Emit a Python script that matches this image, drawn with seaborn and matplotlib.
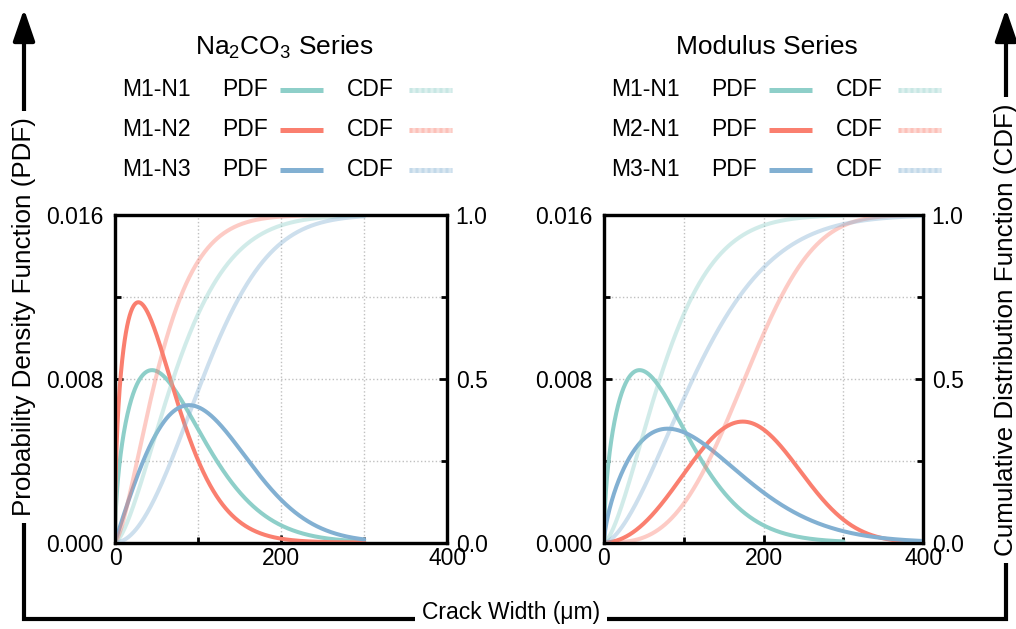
import numpy as np
import pandas as pd
import matplotlib
matplotlib.use("Agg")
import matplotlib.pyplot as plt
import seaborn as sns
from matplotlib.lines import Line2D
from matplotlib.patches import FancyArrowPatch
from matplotlib.ticker import MultipleLocator

# ---------------- data (Weibull fits) ----------------
left_title = "Na$_2$CO$_3$ Series"
right_title = "Modulus Series"
left_labels = ["M1-N1", "M1-N2", "M1-N3"]
right_labels = ["M1-N1", "M2-N1", "M3-N1"]
left_shape = [1.53, 1.45, 1.98]
left_scale = [89.0, 63.0, 127.0]
left_xmax = [300, 300, 300]
right_shape = [1.53, 3.0, 1.66]
right_scale = [89.0, 199.0, 139.0]
right_xmax = [300, 400, 400]
colors = ["#8ECFC9", "#FA7F6F", "#82B0D2"]
x_ticks = [0, 200, 400]
pdf_ticks = [0.000, 0.008, 0.016]
cdf_ticks = [0.0, 0.5, 1.0]
x_label = "Crack Width (μm)"
pdf_label = "Probability Density Function (PDF)"
cdf_label = "Cumulative Distribution Function (CDF)"

sns.set_theme(style="ticks")
plt.rcParams['font.family'] = ['Liberation Sans', 'DejaVu Sans']
plt.rcParams['mathtext.fontset'] = 'custom'
plt.rcParams['mathtext.rm'] = 'Liberation Sans'
plt.rcParams['mathtext.it'] = 'Liberation Sans:italic'
plt.rcParams['mathtext.bf'] = 'Liberation Sans:bold'
for key in ['text.color', 'axes.labelcolor', 'xtick.color', 'ytick.color', 'axes.edgecolor']:
    plt.rcParams[key] = 'black'

W, H = 1016, 629
fig = plt.figure(figsize=(W / 100, H / 100), dpi=100)


def fx(p):
    return p / W


def fy(p):
    return 1 - p / H


def weibull(x, k, lam):
    z = x / lam
    pdf = (k / lam) * z ** (k - 1) * np.exp(-z ** k)
    cdf = 1 - np.exp(-z ** k)
    return pdf, cdf


def panel(left, right, shapes, scales, xmaxs):
    top, bot = 215, 542.5
    ax = fig.add_axes([fx(left), fy(bot), fx(right - left), (bot - top) / H])
    ax2 = ax.twinx()
    for k, lam, xm, c in zip(shapes, scales, xmaxs, colors):
        x = np.linspace(0, xm, 800)
        pdf, cdf = weibull(x, k, lam)
        df = pd.DataFrame({"x": x, "pdf": pdf, "cdf": cdf})
        sns.lineplot(data=df, x="x", y="pdf", ax=ax, color=c, lw=2.9, zorder=3)
        sns.lineplot(data=df, x="x", y="cdf", ax=ax2, color=c, lw=2.9, alpha=0.4, zorder=2)
    ax.set_xlim(0, 400)
    ax.set_ylim(0, 0.016)
    ax2.set_ylim(0, 1.0)
    ax.set_xticks(x_ticks)
    ax.set_yticks(pdf_ticks)
    ax.set_yticklabels([f"{v:.3f}" for v in pdf_ticks])
    ax2.set_yticks(cdf_ticks)
    ax2.set_yticklabels([f"{v:.1f}" for v in cdf_ticks])
    ax.xaxis.set_minor_locator(MultipleLocator(100))
    ax.yaxis.set_minor_locator(MultipleLocator(0.004))
    ax2.yaxis.set_minor_locator(MultipleLocator(0.25))
    ax.grid(True, which="both", color="#c0c0c0", ls=":", lw=1.0)
    ax.set_xlabel("")
    ax.set_ylabel("")
    ax2.set_ylabel("")
    ax.tick_params(axis="x", which="both", direction="in", labelsize=16.5, pad=3,
                   top=False, width=2)
    ax.tick_params(axis="x", which="major", length=6)
    ax.tick_params(axis="x", which="minor", length=4)
    ax.tick_params(axis="y", which="both", direction="in", labelsize=16.5, pad=8, width=2)
    ax.tick_params(axis="y", which="major", length=6)
    ax.tick_params(axis="y", which="minor", length=4)
    ax2.tick_params(axis="y", which="both", direction="in", labelsize=16.5, pad=6, width=2)
    ax2.tick_params(axis="y", which="major", length=6)
    ax2.tick_params(axis="y", which="minor", length=4)
    for a in (ax, ax2):
        for s in a.spines.values():
            s.set_linewidth(2.3)
            s.set_color("black")
    ax.set_facecolor("white")
    return ax, ax2


panel(115, 447.3, left_shape, left_scale, left_xmax)
panel(604, 923.3, right_shape, right_scale, right_xmax)


def legend_block(x0, title, title_cx, labels):
    fig.text(fx(title_cx), fy(47), title, ha="center", va="center", fontsize=19)
    rows = [90, 130, 170]
    for lab, c, yy in zip(labels, colors, rows):
        fig.text(fx(x0), fy(yy), lab, ha="left", va="center", fontsize=16.5)
        fig.text(fx(x0 + 100), fy(yy), "PDF", ha="left", va="center", fontsize=16.5)
        fig.add_artist(Line2D([fx(x0 + 158), fx(x0 + 201)], [fy(yy), fy(yy)],
                              transform=fig.transFigure, color=c, lw=3.6,
                              solid_capstyle="butt"))
        fig.text(fx(x0 + 225), fy(yy), "CDF", ha="left", va="center", fontsize=16.5)
        fig.add_artist(Line2D([fx(x0 + 287), fx(x0 + 330)], [fy(yy), fy(yy)],
                              transform=fig.transFigure, color=c, lw=3.6, alpha=0.3,
                              solid_capstyle="butt"))
        fig.add_artist(Line2D([fx(x0 + 287), fx(x0 + 330)], [fy(yy), fy(yy)],
                              transform=fig.transFigure, color=c, lw=3.6, alpha=0.25,
                              ls=(0, (0.6, 0.6)), dash_capstyle="butt"))


legend_block(122, left_title, 284, left_labels)
legend_block(611, right_title, 767, right_labels)

# ---------------- outer frame with arrows ----------------
lx, rx, by = 24, 1006, 619
fig.add_artist(Line2D([fx(lx), fx(lx), fx(rx), fx(rx)], [fy(30), fy(by), fy(by), fy(30)],
                      transform=fig.transFigure, color="black", lw=3,
                      solid_joinstyle="miter", zorder=1))
for xx in (lx, rx):
    fig.add_artist(FancyArrowPatch((fx(xx), fy(40)), (fx(xx), fy(9)),
                                   transform=fig.transFigure,
                                   arrowstyle="-|>,head_length=1.6,head_width=0.55",
                                   mutation_scale=12, color="black", lw=3,
                                   shrinkA=0, shrinkB=0))

bb = dict(facecolor="white", edgecolor="none", pad=5)
fig.text(fx(lx), fy(317), pdf_label, rotation=90, ha="center", va="center",
         fontsize=18.7, bbox=bb, zorder=5)
fig.text(fx(rx), fy(330), cdf_label, rotation=90, ha="center", va="center",
         fontsize=18.7, bbox=bb, zorder=5)
fig.text(fx(511), fy(613), x_label, ha="center", va="center",
         fontsize=16.5, bbox=bb, zorder=5)

fig.savefig("out.png", dpi=100, facecolor="white")
